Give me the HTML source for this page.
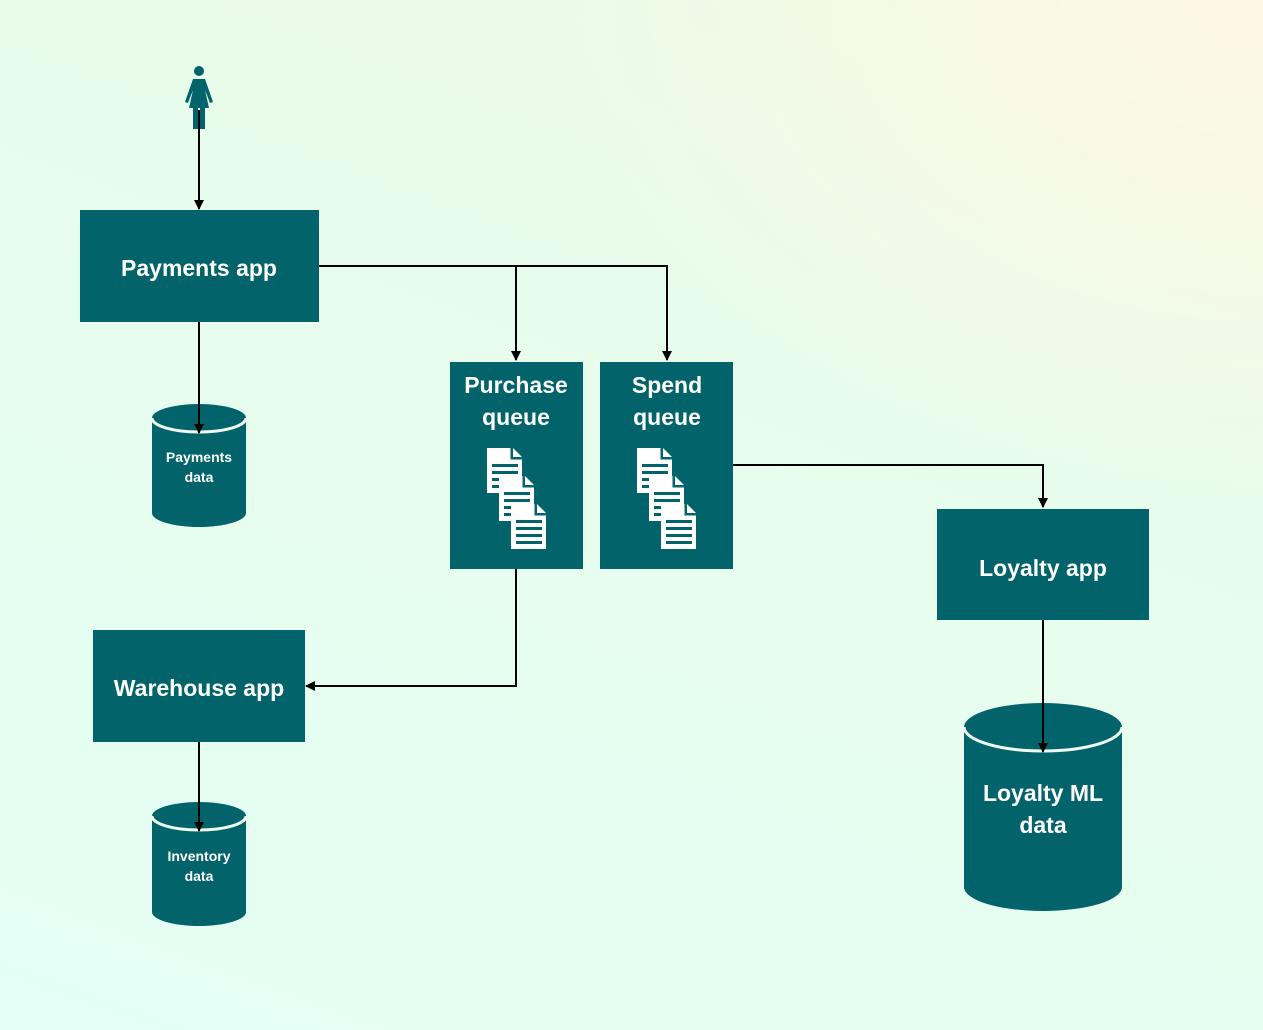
<!DOCTYPE html>
<html><head><meta charset="utf-8"><style>
html,body{margin:0;padding:0;width:1263px;height:1030px;overflow:hidden}
body{background:radial-gradient(ellipse 700px 500px at 1263px 0px,rgba(255,247,230,1) 0%,rgba(255,247,230,0) 100%),linear-gradient(20deg,#e3fff6 0%,#e7fdee 50%,#ecfbe4 100%)}
svg{display:block}
text{font-family:"Liberation Sans",sans-serif;font-weight:bold;fill:#fff;text-anchor:middle}
</style></head><body>
<svg width="1263" height="1030" viewBox="0 0 1263 1030">
<defs>
<marker id="a" markerWidth="10" markerHeight="10" refX="9" refY="5" orient="auto" markerUnits="userSpaceOnUse" viewBox="0 0 10 10"><path d="M0,0 L10,5 L0,10 z" fill="#000"/></marker>
<g id="doc"><path d="M0,0 H24 L35,11 V45 H0 Z" fill="#fff"/><path d="M24,0 V11 H35" fill="#02636b" stroke="#02636b" stroke-width="1"/><path d="M26,0 L35,9 H26Z" fill="#fff"/><rect x="5" y="16" width="26" height="3" fill="#02636b"/><rect x="5" y="23" width="26" height="3" fill="#02636b"/><rect x="5" y="30" width="26" height="3" fill="#02636b"/><rect x="5" y="37" width="26" height="3" fill="#02636b"/></g>
<g id="docs"><use href="#doc" x="0" y="0"/><use href="#doc" x="12" y="28"/><use href="#doc" x="24" y="56"/></g>
</defs>
<g fill="#02636b">
<circle cx="199" cy="71" r="5"/>
<path d="M193,79 H205 L213,102 L210,103 L205,90 L209,108 H189 L193,90 L188,103 L185,102 Z"/>
<rect x="193" y="108" width="5" height="21"/><rect x="200" y="108" width="5" height="21"/>
<rect x="80" y="210" width="239" height="112"/>
<rect x="450" y="362" width="133" height="207"/>
<rect x="600" y="362" width="133" height="207"/>
<rect x="937" y="509" width="212" height="111"/>
<rect x="93" y="630" width="212" height="112"/>
<path d="M152,418 A47,14 0 0 1 246,418 V513 A47,14 0 0 1 152,513 Z"/>
<path d="M152,816 A47,14 0 0 1 246,816 V912 A47,14 0 0 1 152,912 Z"/>
<path d="M964,727 A79,24 0 0 1 1122,727 V887 A79,24 0 0 1 964,887 Z"/>
</g>
<g fill="none" stroke="#f0fbef" stroke-width="3">
<path d="M152,418 A47,14 0 0 0 246,418"/>
<path d="M152,816 A47,14 0 0 0 246,816"/>
<path d="M964,727 A79,24 0 0 0 1122,727"/>
</g>
<use href="#docs" x="487" y="448"/>
<use href="#docs" x="637" y="448"/>
<g fill="none" stroke="#000" stroke-width="2">
<path d="M199,110 V209" marker-end="url(#a)"/>
<path d="M199,322 V433" marker-end="url(#a)"/>
<path d="M319,266 H516 V360" marker-end="url(#a)"/>
<path d="M516,266 H667 V360" marker-end="url(#a)"/>
<path d="M733,465 H1043 V507" marker-end="url(#a)"/>
<path d="M516,569 V686 H306" marker-end="url(#a)"/>
<path d="M199,742 V831" marker-end="url(#a)"/>
<path d="M1043,620 V752" marker-end="url(#a)"/>
</g>
<text x="199" y="276" font-size="23">Payments app</text>
<text x="516" y="393" font-size="23">Purchase</text>
<text x="516" y="425" font-size="23">queue</text>
<text x="667" y="393" font-size="23">Spend</text>
<text x="667" y="425" font-size="23">queue</text>
<text x="1043" y="576" font-size="23">Loyalty app</text>
<text x="199" y="696" font-size="23">Warehouse app</text>
<text x="199" y="462" font-size="14">Payments</text>
<text x="199" y="482" font-size="14">data</text>
<text x="199" y="861" font-size="14">Inventory</text>
<text x="199" y="881" font-size="14">data</text>
<text x="1043" y="801" font-size="23">Loyalty ML</text>
<text x="1043" y="833" font-size="23">data</text>
</svg>
</body></html>
